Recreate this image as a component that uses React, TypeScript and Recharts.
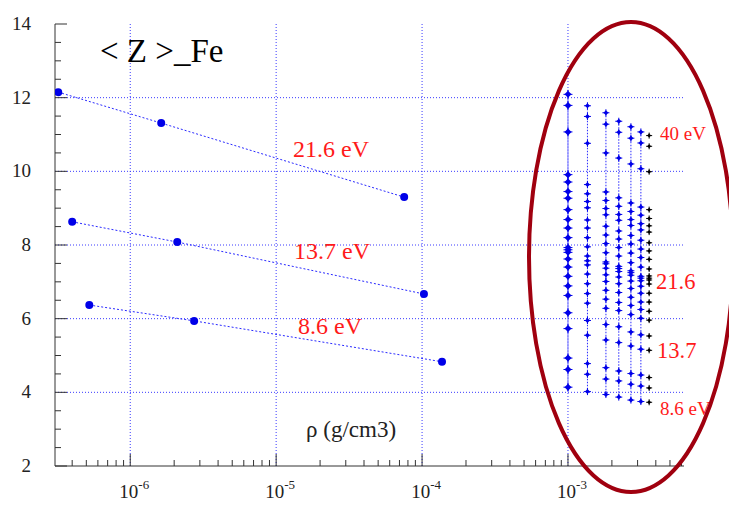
import React from "react";
import {
  ComposedChart,
  ReferenceLine,
  Scatter,
  XAxis,
  YAxis,
} from "recharts";

// left-hand series: <Z> vs density at three temperatures
const rho216 = [3.21e-7, 1.63e-6, 7.54e-5];
const z216 = [12.15, 11.31, 9.3];
const rho137 = [4.0e-7, 2.1e-6, 1.03e-4];
const z137 = [8.63, 8.08, 6.67];
const rho86 = [5.24e-7, 2.74e-6, 1.37e-4];
const z86 = [6.37, 5.94, 4.83];

// right-hand columns (inside the ellipse)
const colRho = [1.0e-3, 1.36e-3, 1.82e-3, 2.23e-3, 2.7e-3, 3.16e-3, 3.6e-3];
const colZ1 = [12.09, 11.79, 11.07, 9.91, 9.71, 9.45, 9.27, 8.96, 8.69, 8.46, 8.2, 7.93, 7.87, 7.8, 7.62, 7.4, 7.15, 6.89, 6.63, 6.16, 5.73, 4.93, 4.62, 4.14];
const colZ2 = [11.78, 11.49, 10.76, 9.64, 9.39, 9.18, 9.01, 8.68, 8.46, 8.2, 7.95, 7.7, 7.57, 7.46, 7.21, 6.95, 6.68, 6.42, 5.95, 5.55, 4.78, 4.49, 4.02];
const colZ3 = [11.59, 11.28, 10.5, 9.44, 9.21, 8.99, 8.82, 8.51, 8.27, 8.04, 7.79, 7.54, 7.49, 7.37, 7.19, 7.01, 6.77, 6.53, 6.28, 5.84, 5.42, 4.67, 4.36, 3.94];
const colZ4 = [11.36, 11.06, 10.36, 9.28, 9.05, 8.83, 8.67, 8.38, 8.16, 7.93, 7.7, 7.42, 7.36, 7.28, 7.13, 6.95, 6.71, 6.44, 6.22, 5.78, 5.35, 4.58, 4.31, 3.87];
const colZ5 = [11.21, 10.9, 10.2, 9.14, 8.91, 8.69, 8.53, 8.26, 8.03, 7.78, 7.52, 7.3, 7.25, 7.18, 7.02, 6.82, 6.58, 6.36, 6.11, 5.64, 5.26, 4.51, 4.22, 3.79];
const colZ6 = [11.07, 10.77, 10.07, 9.03, 8.81, 8.58, 8.41, 8.13, 7.89, 7.66, 7.4, 7.15, 7.1, 7.03, 6.88, 6.69, 6.45, 6.25, 6.01, 5.56, 5.17, 4.47, 4.17, 3.75];
const colZ7 = [10.97, 10.68, 9.99, 8.96, 8.72, 8.52, 8.35, 8.06, 7.84, 7.61, 7.35, 7.16, 7.1, 7.05, 6.94, 6.69, 6.45, 6.2, 5.96, 5.53, 5.14, 4.4, 4.12, 3.73];

const xMajor = [1e-6, 1e-5, 1e-4, 1e-3];
const xMinor = [
  4e-7, 5e-7, 6e-7, 7e-7, 8e-7, 9e-7,
  2e-6, 3e-6, 4e-6, 5e-6, 6e-6, 7e-6, 8e-6, 9e-6,
  2e-5, 3e-5, 4e-5, 5e-5, 6e-5, 7e-5, 8e-5, 9e-5,
  2e-4, 3e-4, 4e-4, 5e-4, 6e-4, 7e-4, 8e-4, 9e-4,
  2e-3, 3e-3, 4e-3, 5e-3, 6e-3,
];
const yMajor = [2, 4, 6, 8, 10, 12, 14];
const yMinor = [2.5, 3, 3.5, 4.5, 5, 5.5, 6.5, 7, 7.5, 8.5, 9, 9.5, 10.5, 11, 11.5, 12.5, 13, 13.5];

const toPts = (xs: number[], ys: number[]) => ys.map((y, i) => ({ x: xs[i], y }));
const column = (i: number, ys: number[]) => ys.map((y) => ({ x: colRho[i], y }));

const BLUE = "#0000e8";
const SERIF = "Liberation Serif";
const isMajor = (v: number, list: number[]) => list.some((m) => Math.abs(m - v) < m * 1e-6);

const BottomTick = (props: any) => {
  const { x, y, payload } = props;
  const major = isMajor(payload.value, xMajor);
  const exp = Math.round(Math.log10(payload.value));
  return (
    <g>
      <line x1={x} x2={x} y1={y} y2={y - (major ? 12 : 6)} stroke="#333" />
      {major && (
        <text x={x + 4} y={y + 32} textAnchor="middle" fontFamily={SERIF} fontSize={19} fill="#222">
          10
          <tspan dy={-9} fontSize={13}>{exp}</tspan>
        </text>
      )}
    </g>
  );
};

const TopTick = (props: any) => {
  const { x, y, payload } = props;
  const major = isMajor(payload.value, xMajor);
  return <line x1={x} x2={x} y1={y} y2={y + (major ? 12 : 6)} stroke="#333" />;
};

const LeftTick = (props: any) => {
  const { x, y, payload } = props;
  const major = isMajor(payload.value, yMajor);
  return (
    <g>
      <line x1={x} x2={x + (major ? 12 : 6)} y1={y} y2={y} stroke="#333" />
      {major && (
        <text x={x - 24} y={y + 6} textAnchor="end" fontFamily={SERIF} fontSize={19} fill="#222">
          {payload.value}
        </text>
      )}
    </g>
  );
};

const RightTick = (props: any) => {
  const { x, y, payload } = props;
  const major = isMajor(payload.value, yMajor);
  return <line x1={x} x2={x - (major ? 12 : 6)} y1={y} y2={y} stroke="#333" />;
};

const Dot = (r: number, color: string) => (props: any) => (
  <circle cx={props.cx} cy={props.cy} r={r} fill={color} />
);

const Cross = (r: number, color: string) => (props: any) => {
  const { cx, cy } = props;
  return (
    <g>
      <polygon
        points={`${cx},${cy - r} ${cx + r},${cy} ${cx},${cy + r} ${cx - r},${cy}`}
        fill={color}
      />
      <line x1={cx - r - 1} x2={cx + r + 1} y1={cy} y2={cy} stroke={color} strokeWidth={1} />
      <line x1={cx} x2={cx} y1={cy - r - 1} y2={cy + r + 1} stroke={color} strokeWidth={1} />
    </g>
  );
};

const lineStyle = { stroke: "#2a2aff", strokeWidth: 1, strokeDasharray: "2 2" };
const colLine = { stroke: "#2a2aff", strokeWidth: 1, strokeDasharray: "1.5 1.5" };
const gridStyle = { stroke: "#3a3aff", strokeWidth: 1, strokeDasharray: "1 2" };

const columns = [colZ1, colZ2, colZ3, colZ4, colZ5, colZ6];

export default function App() {
  return (
    <div style={{ position: "absolute", left: 0, top: 0, width: 729, height: 506, background: "#fff" }}>
      <ComposedChart width={729} height={506} margin={{ top: 24, right: 45, bottom: 0, left: 0 }}>
        <XAxis
          xAxisId="b"
          dataKey="x"
          type="number"
          scale="log"
          domain={[3.05e-7, 6.24e-3]}
          allowDataOverflow
          ticks={[...xMajor, ...xMinor]}
          interval={0}
          tick={<BottomTick />}
          tickLine={false}
          tickSize={0}
          tickMargin={0}
          height={40}
          axisLine={{ stroke: "#333" }}
        />
        <XAxis
          xAxisId="t"
          orientation="top"
          dataKey="x"
          type="number"
          scale="log"
          domain={[3.05e-7, 6.24e-3]}
          allowDataOverflow
          ticks={[...xMajor, ...xMinor]}
          interval={0}
          tick={<TopTick />}
          tickLine={false}
          tickSize={0}
          tickMargin={0}
          height={0}
          axisLine={{ stroke: "#333" }}
        />
        <YAxis
          yAxisId="l"
          dataKey="y"
          type="number"
          domain={[2, 14]}
          ticks={[...yMajor, ...yMinor]}
          interval={0}
          tick={<LeftTick />}
          tickLine={false}
          tickSize={0}
          tickMargin={0}
          width={55}
          axisLine={{ stroke: "#333" }}
        />
        <YAxis
          yAxisId="r"
          orientation="right"
          dataKey="y"
          type="number"
          domain={[2, 14]}
          ticks={[...yMajor, ...yMinor]}
          interval={0}
          tick={<RightTick />}
          tickLine={false}
          tickSize={0}
          tickMargin={0}
          width={0}
          axisLine={{ stroke: "#333" }}
        />
        {[4, 6, 8, 10, 12].map((v) => (
          <ReferenceLine key={"h" + v} xAxisId="b" yAxisId="l" y={v} {...gridStyle} />
        ))}
        {xMajor.map((v) => (
          <ReferenceLine key={"v" + v} xAxisId="b" yAxisId="l" x={v} {...gridStyle} />
        ))}
        <Scatter xAxisId="b" yAxisId="l" data={toPts(rho216, z216)} line={lineStyle} shape={Dot(4, BLUE)} isAnimationActive={false} />
        <Scatter xAxisId="b" yAxisId="l" data={toPts(rho137, z137)} line={lineStyle} shape={Dot(4, BLUE)} isAnimationActive={false} />
        <Scatter xAxisId="b" yAxisId="l" data={toPts(rho86, z86)} line={lineStyle} shape={Dot(4, BLUE)} isAnimationActive={false} />
        {columns.map((zs, i) => (
          <Scatter
            key={"c" + i}
            xAxisId="b"
            yAxisId="l"
            data={column(i, zs)}
            line={colLine}
            shape={Cross(i === 0 ? 3.5 : 2.5, BLUE)}
            isAnimationActive={false}
          />
        ))}
        <Scatter xAxisId="b" yAxisId="l" data={column(6, colZ7)} shape={Cross(2, "#000")} isAnimationActive={false} />
      </ComposedChart>
      <svg width={729} height={506} style={{ position: "absolute", left: 0, top: 0, pointerEvents: "none" }}>
        <text x={100} y={62} fontFamily={SERIF} fontSize={33} fill="#000">{"< Z >_Fe"}</text>
        <text x={306} y={437} fontFamily={SERIF} fontSize={23} fill="#222">ρ (g/cm3)</text>
        <g fontFamily={SERIF} fill="#ff1a1a">
          <text x={293} y={157} fontSize={24}>21.6 eV</text>
          <text x={294} y={259} fontSize={24}>13.7 eV</text>
          <text x={298} y={334} fontSize={24}>8.6 eV</text>
          <text x={660} y={140} fontSize={19}>40 eV</text>
          <text x={656} y={289} fontSize={22.5}>21.6</text>
          <text x={657} y={358} fontSize={22.5}>13.7</text>
          <text x={660} y={415} fontSize={19}>8.6 eV</text>
        </g>
        <ellipse cx={631} cy={257} rx={102} ry={235} fill="none" stroke="#a0000f" strokeWidth={4} />
      </svg>
    </div>
  );
}
